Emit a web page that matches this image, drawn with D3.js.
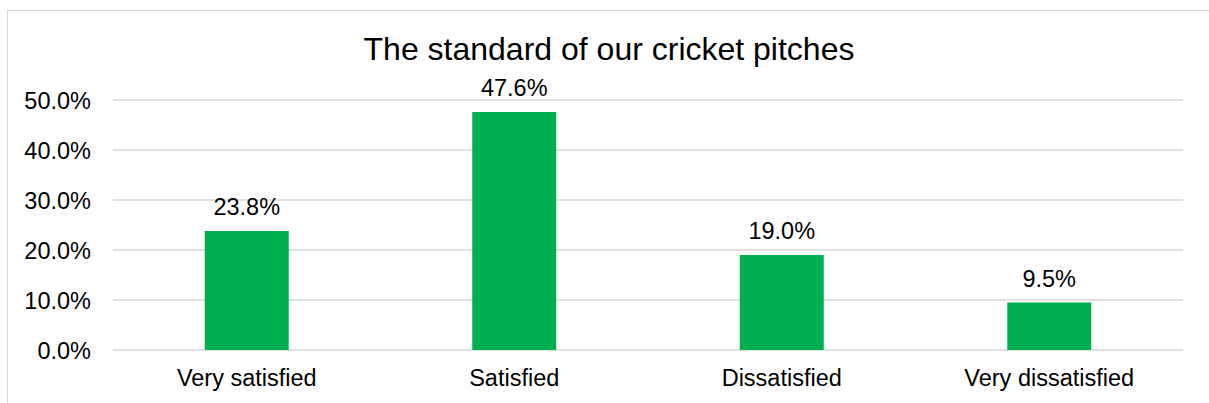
<!DOCTYPE html>
<html>
<head>
<meta charset="utf-8">
<script src="https://cdn.jsdelivr.net/npm/d3@7"></script>
<style>
  html, body { margin: 0; padding: 0; background: #fff; }
  svg { display: block; font-family: "Liberation Sans", Arial, sans-serif; }
</style>
</head>
<body>
<svg id="chart" width="1209" height="403"></svg>
<script>
// Survey responses: satisfaction with the standard of cricket pitches
const categories = ["Very satisfied", "Satisfied", "Dissatisfied", "Very dissatisfied"];
const shares = [23.8, 47.6, 19.0, 9.5];
const yTicks = [0, 10, 20, 30, 40, 50];
const chartTitle = "The standard of our cricket pitches";

const svg = d3.select("#chart");
const W = 1209, H = 403;
const margin = { left: 113, right: 26, top: 100, bottom: 53 };

// Chart outline
svg.append("rect")
  .attr("x", 7.5).attr("y", 10.5)
  .attr("width", W + 20).attr("height", H + 20)
  .attr("fill", "#fff").attr("stroke", "#d9d9d9").attr("stroke-width", 1);

const x = d3.scaleBand()
  .domain(categories)
  .range([margin.left, W - margin.right])
  .paddingInner(0.686)
  .paddingOuter(0.343);

const y = d3.scaleLinear()
  .domain([0, 50])
  .range([H - margin.bottom, margin.top]);

// Horizontal gridlines
svg.append("g")
  .selectAll("line")
  .data(yTicks)
  .join("line")
  .attr("x1", margin.left).attr("x2", W - margin.right)
  .attr("y1", d => y(d)).attr("y2", d => y(d))
  .attr("stroke", "#d9d9d9").attr("stroke-width", 1.5);

// Y axis labels
const yAxis = d3.axisLeft(y)
  .tickValues(yTicks)
  .tickFormat(d => d.toFixed(1) + "%")
  .tickSize(0)
  .tickPadding(22);
const gy = svg.append("g")
  .attr("transform", `translate(${margin.left},0)`)
  .call(yAxis);
gy.select(".domain").remove();
gy.selectAll("text")
  .attr("font-size", 23.5)
  .attr("font-family", "Liberation Sans, Arial, sans-serif")
  .attr("fill", "#000")
  .attr("dy", "0.35em");

// Bars
svg.append("g")
  .selectAll("rect")
  .data(categories)
  .join("rect")
  .attr("x", d => x(d))
  .attr("width", x.bandwidth())
  .attr("y", (d, i) => y(shares[i]))
  .attr("height", (d, i) => y(0) - y(shares[i]))
  .attr("fill", "#00b050");

// Value labels
svg.append("g")
  .selectAll("text")
  .data(categories)
  .join("text")
  .attr("x", d => x(d) + x.bandwidth() / 2)
  .attr("y", (d, i) => y(shares[i]) - 16)
  .attr("text-anchor", "middle")
  .attr("font-size", 23.5)
  .attr("fill", "#000")
  .text((d, i) => shares[i].toFixed(1) + "%");

// Category axis labels
const xAxis = d3.axisBottom(x).tickSize(0).tickPadding(0);
const gx = svg.append("g")
  .attr("transform", `translate(0,${y(0)})`)
  .call(xAxis);
gx.select(".domain").remove();
gx.selectAll("text")
  .attr("font-size", 23.5)
  .attr("font-family", "Liberation Sans, Arial, sans-serif")
  .attr("fill", "#000")
  .attr("dy", 0)
  .attr("y", 36);

// Title
svg.append("text")
  .attr("x", 609)
  .attr("y", 60)
  .attr("text-anchor", "middle")
  .attr("font-size", 32)
  .attr("fill", "#000")
  .text(chartTitle);
</script>
</body>
</html>
